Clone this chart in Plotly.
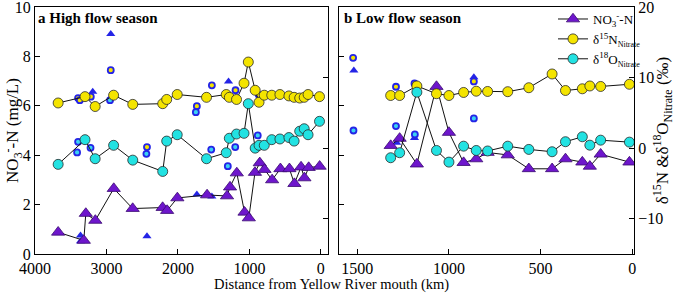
import plotly.graph_objects as go

# ---------------- data ----------------
# Panel a (high flow season)
a_km = [3676, 3300, 3158, 2900, 2632, 2213, 2157, 2010, 1600, 1324, 1281, 1180, 1075,
        1015, 919, 865, 792, 687, 573, 447, 374, 296, 233, 179, 19]
a_d15N = [6.4, 7.3, 5.9, 7.5, 6.2, 6.3, 6.9, 7.6, 7.2, 7.6, 7.2, 6.9, 9.2, 12.2, 8.2,
          6.5, 7.5, 7.5, 7.6, 7.4, 7.2, 7.1, 7.2, 7.6, 7.3]
a_d18O = [-2.3, 1.2, -1.5, 0.4, -1.7, -3.3, 1.0, 1.9, -1.5, -0.65, 1.4, 2.0, 2.1, 6.3,
          0.0, 0.4, 0.4, 1.2, 1.3, 1.5, 1.0, 2.4, 2.75, 1.9, 3.8]
a_no3_km = [3676, 3317, 3289, 3156, 2898, 2633, 2214, 2151, 2008, 1592, 1313, 1271, 1176,
            1068, 1008, 922, 855, 789, 682, 566, 440, 370, 277, 230, 170, 17]
a_no3 = [0.88, 0.55, 1.64, 1.36, 2.65, 1.84, 1.88, 1.76, 2.27, 2.39, 2.35, 2.71, 3.28,
         1.69, 1.46, 3.30, 3.69, 3.42, 3.00, 3.45, 3.45, 2.85, 3.52, 3.08, 3.50, 3.55]
# separate (blue) samples, panel a
a_x_no3_km = [2940, 3363, 3363, 3192, 2433, 1735, 1525, 1292]
a_x_no3 = [8.91, 0.75, 0.52, 6.57, 0.72, 2.41, 2.33, 6.98]
a_x_d15N_km = [3397, 3373, 3219, 2940, 1525, 1735, 1194, 869, 2433]
a_x_d15N = [7.1, 6.8, 7.3, 11.05, 8.9, 5.95, 8.2, 7.55, 0.15]
a_x_d18O_km = [2950, 1749, 3397, 3411, 3223, 2441, 1534, 1302, 1198, 883]
a_x_d18O = [6.8, 5.1, 0.9, -0.6, 0.05, -0.8, -0.2, -2.55, 0.15, 1.8]

# Panel b (low flow season)
b_km = [1318, 1269, 1175, 1068, 1000, 920, 851, 789, 679, 564, 437, 364, 272, 231, 172, 15]
b_no3 = [4.39, 4.68, 3.64, 6.78, 4.92, 3.70, 3.85, 4.11, 4.01, 3.45, 3.45, 3.85, 3.72,
         3.55, 4.04, 3.72]
b_d15N = [7.46, 7.46, 8.81, 7.71, 7.46, 7.89, 8.07, 8.03, 8.0, 8.56, 10.51, 8.17, 8.41,
          8.81, 8.74, 9.05]
b_d18O = [-1.36, -0.65, 7.93, -0.33, -1.98, 0.28, -0.33, -0.40, 0.28, -0.18, -0.51, 0.91,
          1.61, 0.42, 1.13, 0.85]
b_x_no3_km = [1519, 864, 1188, 1285]
b_x_no3 = [7.43, 7.16, 4.70, 4.50]
b_x_d15N_km = [1523, 1289, 1188, 864]
b_x_d15N = [12.8, 8.7, 9.16, 9.45]
b_x_d18O_km = [1521, 1289, 864, 1186]
b_x_d18O = [2.5, 3.12, 4.21, 1.94]

a_ticks = [4000, 3000, 2000, 1000, 0]
b_ticks = [1500, 1000, 500, 0]
no3_ticks = [0, 2, 4, 6, 8, 10]
d_ticks = [-10, 0, 10, 20]

# ---------------- styles ----------------
FONT = "Liberation Serif"
YEL = "#f4e400"
CYA = "#22e2e2"
PUR = "#6e16cc"
BLU = "#2424e6"
EDGE = "#2a2a2a"

big_y = dict(symbol="circle", size=10, color=YEL, line=dict(color=EDGE, width=0.8))
big_c = dict(symbol="circle", size=10, color=CYA, line=dict(color=EDGE, width=0.8))
big_t = dict(symbol="triangle-up", size=11.5, color=PUR, line=dict(color="#3a0a70", width=0.8))
sm_t = dict(symbol="triangle-up", size=8, color=BLU, line=dict(width=0))
sm_y = dict(symbol="circle", size=6, color=YEL, line=dict(color=BLU, width=1.8))
sm_c = dict(symbol="circle", size=6, color="#3ad2f2", line=dict(color=BLU, width=1.8))
LINE = dict(color="#111111", width=1)

fig = go.Figure()


def extras(xs, ys, marker, xa, ya):
    fig.add_trace(go.Scatter(x=xs, y=ys, mode="markers", marker=marker, xaxis=xa, yaxis=ya,
                             showlegend=False, hoverinfo="skip"))


# panel a extras
extras(a_x_no3_km, a_x_no3, sm_t, "x", "y")
extras(a_x_d15N_km, a_x_d15N, sm_y, "x", "y2")
extras(a_x_d18O_km, a_x_d18O, sm_c, "x", "y2")
# panel b extras
extras(b_x_no3_km, b_x_no3, sm_t, "x2", "y3")
extras(b_x_d15N_km, b_x_d15N, sm_y, "x2", "y4")
extras(b_x_d18O_km, b_x_d18O, sm_c, "x2", "y4")

# panel a main series
fig.add_trace(go.Scatter(x=a_no3_km, y=a_no3, mode="lines+markers", line=LINE, marker=big_t,
                         xaxis="x", yaxis="y", name="NO<sub>3</sub><sup>-</sup>-N"))
fig.add_trace(go.Scatter(x=a_km, y=a_d15N, mode="lines+markers", line=LINE, marker=big_y,
                         xaxis="x", yaxis="y2",
                         name="δ<sup>15</sup>N<sub><span style='font-size:8px'>Nitrate</span></sub>"))
fig.add_trace(go.Scatter(x=a_km, y=a_d18O, mode="lines+markers", line=LINE, marker=big_c,
                         xaxis="x", yaxis="y2",
                         name="δ<sup>18</sup>O<sub><span style='font-size:8px'>Nitrate</span></sub>"))
# panel b main series
fig.add_trace(go.Scatter(x=b_km, y=b_no3, mode="lines+markers", line=LINE, marker=big_t,
                         xaxis="x2", yaxis="y3", showlegend=False))
fig.add_trace(go.Scatter(x=b_km, y=b_d15N, mode="lines+markers", line=LINE, marker=big_y,
                         xaxis="x2", yaxis="y4", showlegend=False))
fig.add_trace(go.Scatter(x=b_km, y=b_d18O, mode="lines+markers", line=LINE, marker=big_c,
                         xaxis="x2", yaxis="y4", showlegend=False))

W, H = 675, 295
L, R, T, B = 35, 41, 7, 41
PW = W - L - R
PH = H - T - B


def px2paper(px):
    return (px - L) / PW


def py2paper(py):
    return 1 - (py - T) / PH


common_ax = dict(showline=True, linecolor="black", linewidth=1.2, ticks="inside", ticklen=5,
                 tickwidth=1.2, tickcolor="black", showgrid=False, zeroline=False,
                 ticklabeloverflow="allow",
                 tickfont=dict(family=FONT, size=16, color="black"))

fig.update_layout(
    width=W, height=H,
    margin=dict(l=L, r=R, t=T, b=B, autoexpand=False),
    paper_bgcolor="white", plot_bgcolor="white",
    font=dict(family=FONT, color="black"),
    xaxis=dict(domain=[0, px2paper(328)], range=[4000, -100], tickvals=a_ticks, anchor="y",
               mirror=True, **common_ax),
    xaxis2=dict(domain=[px2paper(339), 1], range=[1600, -10], tickvals=b_ticks, anchor="y3",
                mirror=True, **common_ax),
    yaxis=dict(domain=[0, 1], range=[0, 10], tickvals=no3_ticks, anchor="x",
               title=dict(text="NO<sub>3</sub><sup>-</sup>-N (mg/L)", standoff=3,
                          font=dict(family=FONT, size=17)),
               **common_ax),
    yaxis2=dict(range=[-15, 20], tickvals=d_ticks, anchor="x", overlaying="y", side="right",
                showticklabels=False, **common_ax),
    yaxis3=dict(domain=[0, 1], range=[0, 10], tickvals=no3_ticks, anchor="x2",
                showticklabels=False, **common_ax),
    yaxis4=dict(range=[-15, 20], tickvals=d_ticks, anchor="x2", overlaying="y3", side="right",
                title=dict(text="δ<sup>15</sup>N &δ<sup>18</sup>O<sub>Nitrate</sub> (‰)",
                           standoff=2, font=dict(family=FONT, size=17)),
                **common_ax),
    legend=dict(x=px2paper(553), y=1.012, xanchor="left", yanchor="top",
                bgcolor="rgba(0,0,0,0)", font=dict(family=FONT, size=13),
                itemwidth=30, tracegroupgap=0),
    showlegend=True,
    annotations=[
        dict(text="Distance from Yellow River mouth (km)", xref="paper", yref="paper",
             x=px2paper(331), y=py2paper(284), xanchor="center", yanchor="middle",
             showarrow=False, font=dict(family=FONT, size=14.5)),
        dict(text="<b>a High flow season</b>", xref="paper", yref="paper",
             x=px2paper(36), y=py2paper(18), xanchor="left", yanchor="middle",
             showarrow=False, font=dict(family=FONT, size=15)),
        dict(text="<b>b Low flow season</b>", xref="paper", yref="paper",
             x=px2paper(342), y=py2paper(18), xanchor="left", yanchor="middle",
             showarrow=False, font=dict(family=FONT, size=15)),
    ],
)

fig.write_html("out.html", config={"displayModeBar": False},
               post_script="document.body.style.margin='0';document.body.style.padding='0';")
